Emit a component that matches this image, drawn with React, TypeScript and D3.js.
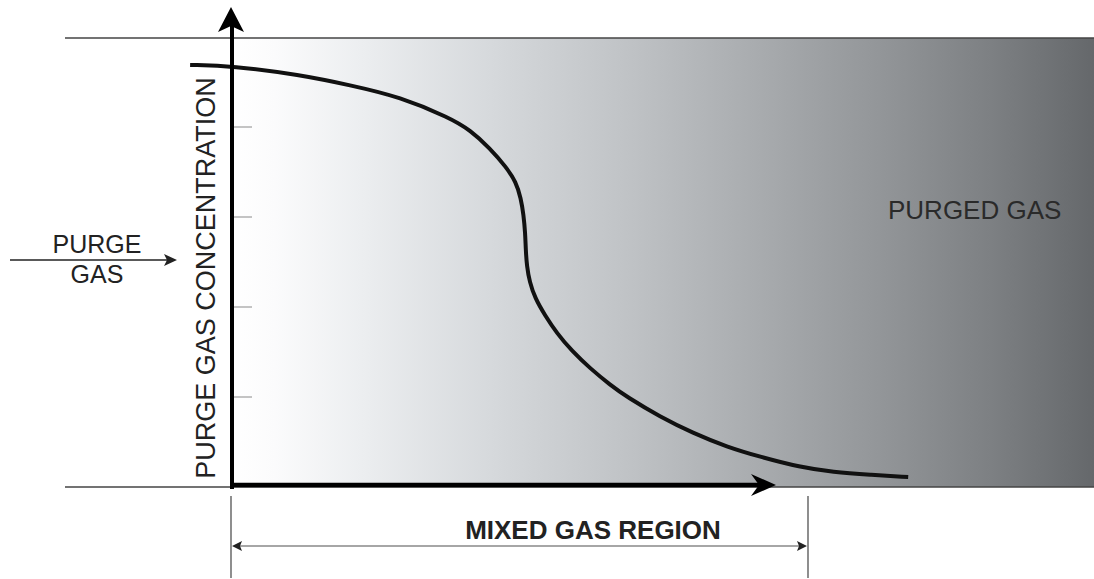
import React from "react";
import * as d3 from "d3";

// Curve: position (x, % of axis length) vs purge gas concentration (y, %)
const curveX = [-7.7, 0, 12.5, 21.7, 30.9, 40.1, 43.8, 47.4, 50.4, 52.2, 53.1, 53.6, 53.9, 54.0, 54.2, 54.7, 55.7, 57.5, 59.7, 62.5, 65.8, 69.5, 72.6, 78.7, 84.7, 91.0, 97.1, 104.4, 110.5, 117.3, 124.3];
const curveY = [93.8, 93.6, 91.6, 89.3, 86.7, 82.0, 79.3, 75.3, 71.1, 67.8, 64.2, 60.4, 56.4, 52.7, 49.1, 45.6, 42.0, 38.2, 34.2, 30.2, 26.4, 22.7, 20.0, 15.6, 12.0, 8.9, 6.7, 4.4, 3.3, 2.7, 2.2];
const yTicks = [20, 40, 60, 80];
const gradStops = [
  { o: 0, c: "#ffffff" },
  { o: 0.05, c: "#fbfbfc" },
  { o: 0.15, c: "#eceef0" },
  { o: 0.3, c: "#d6d9dc" },
  { o: 0.45, c: "#c1c4c7" },
  { o: 0.6, c: "#aaadb0" },
  { o: 0.75, c: "#939699" },
  { o: 0.88, c: "#7d8083" },
  { o: 1, c: "#65686b" },
];

export default function App() {
  const W = 1094, H = 579;
  const x = d3.scaleLinear().domain([0, 100]).range([232, 776]);
  const y = d3.scaleLinear().domain([0, 100]).range([487, 37]);
  const pts: [number, number][] = curveX.map((v, i) => [v, curveY[i]]);
  const line = d3
    .line<[number, number]>()
    .x((d) => x(d[0]))
    .y((d) => y(d[1]))
    .curve(d3.curveBasis);
  const x0 = x(0);
  const y0 = y(0);
  const yTop = 38;
  const font = "Liberation Sans, Arial, sans-serif";
  const dimY = 546;
  const dimR = 808;
  return (
    <svg width={W} height={H} style={{ position: "absolute", left: 0, top: 0, background: "#fff" }} fontFamily={font}>
      <defs>
        <linearGradient id="bg" x1="0" x2="1" y1="0" y2="0">
          {gradStops.map((s, i) => (
            <stop key={i} offset={s.o} stopColor={s.c} />
          ))}
        </linearGradient>
      </defs>
      <rect x={x0} y={yTop} width={W - x0} height={y0 - yTop} fill="url(#bg)" />
      <line x1={65} x2={W} y1={yTop} y2={yTop} stroke="#444" strokeWidth={1.3} />
      <line x1={65} x2={W} y1={y0} y2={y0} stroke="#444" strokeWidth={1.3} />
      {yTicks.map((t) => (
        <line key={t} x1={x0 + 2} x2={x0 + 20} y1={y(t)} y2={y(t)} stroke="#8a8a8a" strokeWidth={1} />
      ))}
      <path d={line(pts) || ""} fill="none" stroke="#111" strokeWidth={4} strokeLinecap="butt" />
      {/* y axis */}
      <line x1={x0} x2={x0} y1={y0 + 2} y2={26} stroke="#000" strokeWidth={4} />
      <path d={`M${x0 - 1},7 L${x0 + 12},32 L${x0 - 1},26 L${x0 - 14},32 Z`} fill="#000" />
      {/* x axis */}
      <line x1={x0 - 2} x2={760} y1={y0 - 2} y2={y0 - 2} stroke="#000" strokeWidth={4.5} />
      <path d={`M${x(100)},${y0 - 2} L${x(100) - 25},${y0 - 13} L${x(100) - 17},${y0 - 2} L${x(100) - 25},${y0 + 9} Z`} fill="#000" />
      {/* y label */}
      <text transform={`translate(215,${278}) rotate(-90)`} textAnchor="middle" fontSize={27} fill="#222">
        PURGE GAS CONCENTRATION
      </text>
      {/* purge gas inlet */}
      <text x={97} y={253} textAnchor="middle" fontSize={25} fill="#222">PURGE</text>
      <text x={97} y={283} textAnchor="middle" fontSize={25} fill="#222">GAS</text>
      <line x1={10} x2={170} y1={260} y2={260} stroke="#222" strokeWidth={1.5} />
      <path d="M177,260 L164,254 L167,260 L164,266 Z" fill="#222" />
      <text x={888} y={219} fontSize={26} fill="#2a2a2a">PURGED GAS</text>
      {/* mixed gas region dimension */}
      <line x1={x0 - 1} x2={x0 - 1} y1={496} y2={578} stroke="#444" strokeWidth={1.2} />
      <line x1={dimR} x2={dimR} y1={496} y2={578} stroke="#444" strokeWidth={1.2} />
      <line x1={x0 + 6} x2={dimR - 6} y1={dimY} y2={dimY} stroke="#888" strokeWidth={1.3} />
      <path d={`M${x0},${dimY} L${x0 + 10},${dimY - 5} L${x0 + 8},${dimY} L${x0 + 10},${dimY + 5} Z`} fill="#222" />
      <path d={`M${dimR - 1},${dimY} L${dimR - 11},${dimY - 5} L${dimR - 9},${dimY} L${dimR - 11},${dimY + 5} Z`} fill="#222" />
      <text x={593} y={539} textAnchor="middle" fontSize={26} fontWeight="bold" fill="#222">
        MIXED GAS REGION
      </text>
    </svg>
  );
}
